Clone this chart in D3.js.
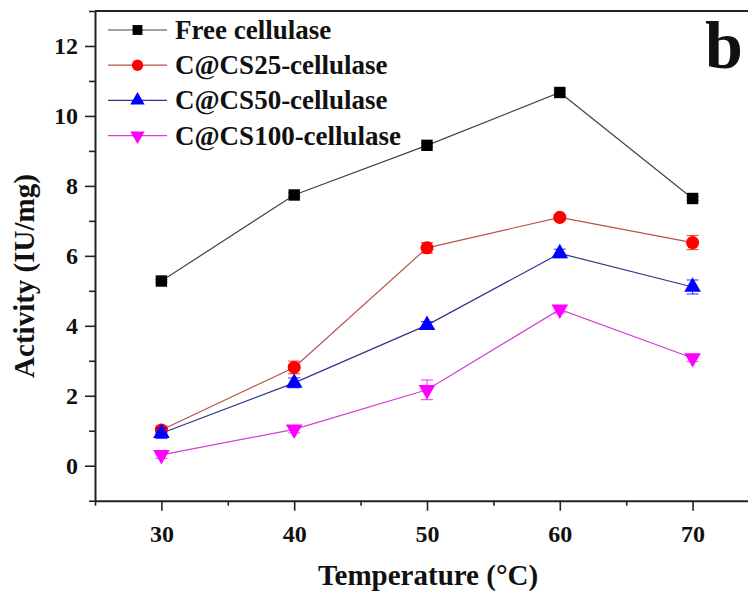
<!DOCTYPE html>
<html>
<head>
<meta charset="utf-8">
<script src="https://cdn.jsdelivr.net/npm/d3@7"></script>
<style>
  body { margin: 0; background: #fff; }
  svg { display: block; }
  .axis path, .axis line { stroke: #222; }
  .axis path { stroke-width: 2; }
  .axis line { stroke-width: 1.6; }
</style>
</head>
<body>
<div id="chart-area"></div>
<script>
// data
const temps = [30, 40, 50, 60, 70]
const seriesNames = ["Free cellulase", "C@CS25-cellulase", "C@CS50-cellulase", "C@CS100-cellulase"]
const freeVals = [5.28, 7.74, 9.16, 10.67, 7.64]
const cs25Vals = [1.02, 2.81, 6.23, 7.10, 6.38]
const cs50Vals = [0.93, 2.37, 4.02, 6.07, 5.11]
const cs100Vals = [0.31, 1.04, 2.17, 4.47, 3.08]
const freeErr = [0.04, 0.05, 0.05, 0.05, 0.05]
const cs25Err = [0.12, 0.18, 0.15, 0.08, 0.2]
const cs50Err = [0.15, 0.14, 0.1, 0.12, 0.2]
const cs100Err = [0.1, 0.1, 0.28, 0.1, 0.1]
const xMajor = [30, 40, 50, 60, 70]
const xMinor = [25, 35, 45, 55, 65, 75]
const yMajor = [0, 2, 4, 6, 8, 10, 12]
const yMinor = [-1, 1, 3, 5, 7, 9, 11, 13]

const FONT = "'Liberation Serif', 'Times New Roman', serif"
const W = 748, H = 593
const LEFT = 95, TOP = 11, BOTTOM = 500.7

const svg = d3.select("#chart-area").append("svg")
  .attr("width", W)
  .attr("height", H)
  .attr("font-family", FONT)
  .attr("font-weight", "bold")

const x = d3.scaleLinear().domain([25, 75]).range([LEFT, LEFT + 50 * 13.28])
const y = d3.scaleLinear().domain([-1, 13]).range([BOTTOM, TOP])

const series = [
  { name: seriesNames[0], vals: freeVals, err: freeErr, line: "#444", fill: "#000", shape: d3.symbolSquare, size: 130, rot: 0 },
  { name: seriesNames[1], vals: cs25Vals, err: cs25Err, line: "#b8524c", fill: "#f00", shape: d3.symbolCircle, size: 135, rot: 0 },
  { name: seriesNames[2], vals: cs50Vals, err: cs50Err, line: "#33338f", fill: "#0000ff", shape: d3.symbolTriangle, size: 120, rot: 0 },
  { name: seriesNames[3], vals: cs100Vals, err: cs100Err, line: "#d23fd2", fill: "#ff00ff", shape: d3.symbolTriangle, size: 120, rot: 180 }
]

// axes
svg.append("g").attr("class", "axis")
  .attr("transform", `translate(0, ${BOTTOM})`)
  .call(d3.axisBottom(x).tickValues(xMinor).tickSize(5).tickFormat("").tickSizeOuter(0))
svg.append("g").attr("class", "axis")
  .attr("transform", `translate(0, ${BOTTOM})`)
  .call(d3.axisBottom(x).tickValues(xMajor).tickSize(10).tickPadding(14).tickSizeOuter(0))
  .call(g => g.select(".domain").remove())
  .attr("font-family", FONT)
  .attr("font-size", 24)
  .selectAll("text").attr("fill", "#111")

svg.append("g").attr("class", "axis")
  .attr("transform", `translate(${LEFT}, 0)`)
  .call(d3.axisLeft(y).tickValues(yMinor).tickSize(6).tickFormat("").tickSizeOuter(0))
svg.append("g").attr("class", "axis")
  .attr("transform", `translate(${LEFT}, 0)`)
  .call(d3.axisLeft(y).tickValues(yMajor).tickSize(10).tickPadding(7).tickSizeOuter(0))
  .call(g => g.select(".domain").remove())
  .attr("font-family", FONT)
  .attr("font-size", 24)
  .selectAll("text").attr("fill", "#111")

// top frame line
svg.append("line")
  .attr("x1", LEFT).attr("x2", x(75))
  .attr("y1", TOP).attr("y2", TOP)
  .attr("stroke", "#222").attr("stroke-width", 2)

// lines
const line = d3.line()
  .x((d, i) => x(temps[i]))
  .y(d => y(d))

series.forEach(s => {
  svg.append("path")
    .datum(s.vals)
    .attr("fill", "none")
    .attr("stroke", s.line)
    .attr("stroke-width", 1.2)
    .attr("d", line)
})

// error bars and markers
series.forEach(s => {
  const g = svg.append("g")
  s.vals.forEach((v, i) => {
    const cx = x(temps[i])
    const lo = y(v - s.err[i]), hi = y(v + s.err[i])
    g.append("line").attr("x1", cx).attr("x2", cx).attr("y1", lo).attr("y2", hi)
      .attr("stroke", s.fill).attr("stroke-width", 1.2).attr("opacity", 0.7)
    ;[lo, hi].forEach(yy => {
      g.append("line").attr("x1", cx - 6).attr("x2", cx + 6).attr("y1", yy).attr("y2", yy)
        .attr("stroke", s.fill).attr("stroke-width", 1.2).attr("opacity", 0.7)
    })
  })
  g.selectAll("path.mark")
    .data(s.vals)
    .enter().append("path")
    .attr("class", "mark")
    .attr("d", d3.symbol().type(s.shape).size(s.size))
    .attr("transform", (d, i) => `translate(${x(temps[i])}, ${y(d)}) rotate(${s.rot})`)
    .attr("fill", s.fill)
})

// legend
const legend = svg.append("g").attr("transform", "translate(108, 30)")
series.forEach((s, i) => {
  const row = legend.append("g").attr("transform", `translate(0, ${i * 35.2})`)
  row.append("line").attr("x1", 0).attr("x2", 59).attr("y1", 0).attr("y2", 0)
    .attr("stroke", s.line).attr("stroke-width", 1.2)
  row.append("path")
    .attr("d", d3.symbol().type(s.shape).size(s.size * 0.75))
    .attr("transform", `translate(29.5, 0) rotate(${s.rot})`)
    .attr("fill", s.fill)
  row.append("text")
    .attr("x", 67).attr("y", 9)
    .attr("font-size", "27px")
    .attr("fill", "#111")
    .text(s.name)
})

// panel letter
svg.append("text")
  .attr("x", 705).attr("y", 68)
  .attr("font-size", "68px")
  .attr("fill", "#111")
  .text("b")

// X label
svg.append("text")
  .attr("x", 428).attr("y", 585)
  .attr("font-size", "29px")
  .attr("text-anchor", "middle")
  .attr("fill", "#111")
  .text("Temperature (°C)")

// Y label
svg.append("text")
  .attr("x", -276).attr("y", 34)
  .attr("font-size", "29px")
  .attr("text-anchor", "middle")
  .attr("transform", "rotate(-90)")
  .attr("fill", "#111")
  .text("Activity (IU/mg)")
</script>
</body>
</html>
